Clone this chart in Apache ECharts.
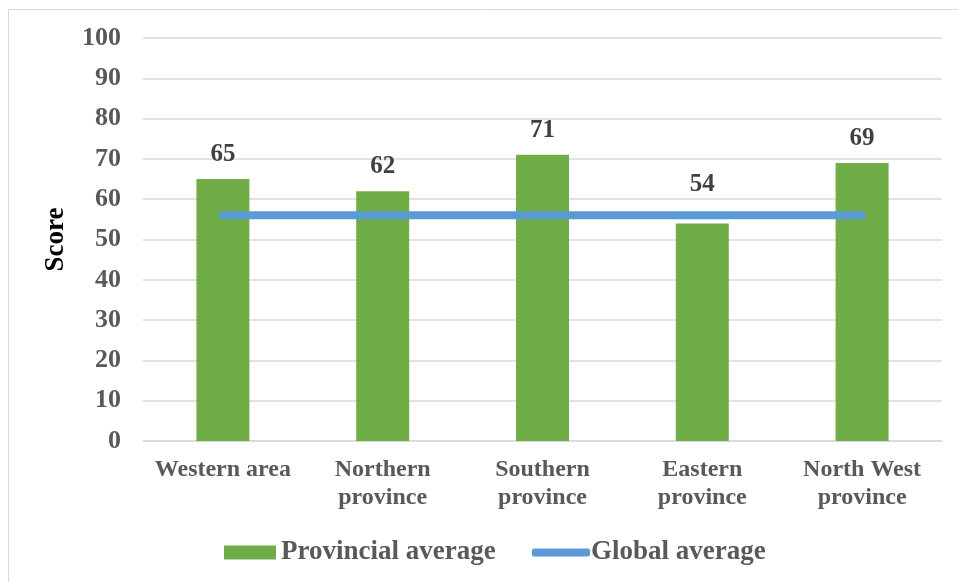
<!DOCTYPE html>
<html>
<head>
<meta charset="utf-8">
<script src="https://cdn.jsdelivr.net/npm/echarts@6/dist/echarts.min.js"></script>
<style>
  html, body { margin: 0; padding: 0; background: #fff; }
  #chart { width: 958px; height: 582px; }
</style>
</head>
<body>
<div id="chart"></div>
<script>
const categories = ['Western area', 'Northern\nprovince', 'Southern\nprovince', 'Eastern\nprovince', 'North West\nprovince'];
const provincialAverage = [65, 62, 71, 54, 69];
const globalAverage = [56, 56, 56, 56, 56];
const yTicks = { min: 0, max: 100, interval: 10 };

const FONT = '"Liberation Serif", "Times New Roman", serif';

// The Eastern label is lifted so it clears the global-average line.
const labelLift = { 3: 14 };
const barData = provincialAverage.map((v, i) =>
  labelLift[i] ? { value: v, label: { offset: [0, -labelLift[i]] } } : v
);

const chart = echarts.init(document.getElementById('chart'));

chart.setOption({
  animation: false,
  backgroundColor: '#ffffff',
  graphic: [{
    type: 'rect',
    shape: { x: 8.5, y: 9.5, width: 960, height: 600 },
    style: { fill: 'none', stroke: '#d9d9d9', lineWidth: 1 },
    silent: true,
    z: -1
  }],
  grid: { left: 143, right: 16, top: 38, bottom: 141 },
  legend: [{
    data: ['Provincial average'],
    left: 219, top: 534,
    itemWidth: 52, itemHeight: 14, itemGap: 0,
    icon: 'rect',
    textStyle: { fontFamily: FONT, fontWeight: 'bold', fontSize: 27, color: '#595959', padding: [0, 0, 0, 0] }
  }, {
    data: ['Global average'],
    left: 527, top: 534,
    itemWidth: 58, itemHeight: 8,
    icon: 'roundRect',
    textStyle: { fontFamily: FONT, fontWeight: 'bold', fontSize: 27, color: '#595959', padding: [0, 0, 0, -4] }
  }],
  xAxis: {
    type: 'category',
    data: categories,
    axisLine: { lineStyle: { color: '#d9d9d9', width: 1.5 } },
    axisTick: { show: false },
    axisLabel: {
      fontFamily: FONT, fontWeight: 'bold', fontSize: 24, color: '#595959',
      lineHeight: 28, margin: 15, interval: 0
    }
  },
  yAxis: {
    type: 'value',
    min: yTicks.min, max: yTicks.max, interval: yTicks.interval,
    name: 'Score',
    nameLocation: 'middle',
    nameRotate: 90,
    nameGap: 73,
    nameTextStyle: { fontFamily: FONT, fontWeight: 'bold', fontSize: 27, color: '#000000' },
    axisLine: { show: false },
    axisTick: { show: false },
    splitLine: { lineStyle: { color: '#d9d9d9', width: 1.5 } },
    axisLabel: { fontFamily: FONT, fontWeight: 'bold', fontSize: 26, color: '#595959', margin: 22 }
  },
  series: [{
    name: 'Provincial average',
    type: 'bar',
    data: barData,
    barWidth: 53,
    itemStyle: { color: '#70ad47' },
    label: {
      show: true, position: 'top', distance: 12,
      fontFamily: FONT, fontWeight: 'bold', fontSize: 25, color: '#404040'
    },
    z: 2
  }, {
    name: 'Global average',
    type: 'line',
    data: globalAverage,
    symbol: 'none',
    lineStyle: { color: '#5b9bd5', width: 8, cap: 'round' },
    itemStyle: { color: '#5b9bd5' },
    z: 3
  }]
});
</script>
</body>
</html>
